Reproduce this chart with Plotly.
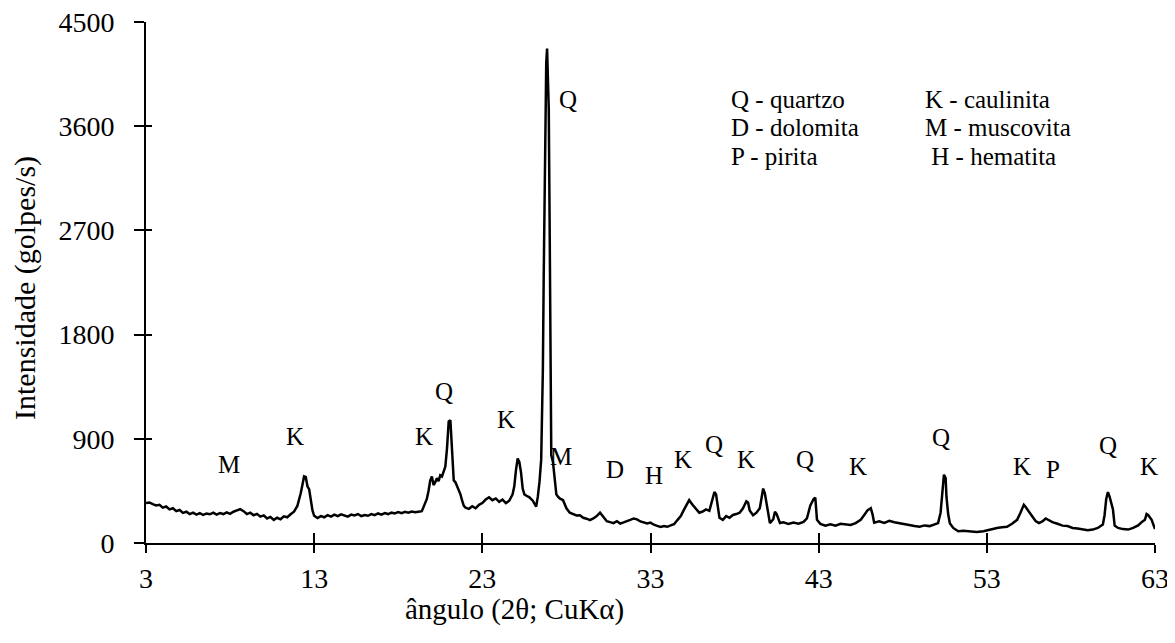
import plotly.graph_objects as go

two_theta = [
    3.0, 3.2, 3.4, 3.6, 3.8, 4.0, 4.2, 4.4, 4.6, 4.8, 5.0, 5.2, 5.4, 5.6, 5.8, 6.0, 6.2, 6.4, 6.6, 6.8,
    7.0, 7.2, 7.4, 7.6, 7.8, 8.0, 8.2, 8.4, 8.6, 8.8, 9.0, 9.2, 9.4, 9.6, 9.8, 10.0, 10.2, 10.4, 10.6, 10.8,
    11.0, 11.2, 11.4, 11.6, 11.8, 12.0, 12.1, 12.2, 12.3, 12.4, 12.5, 12.6, 12.7, 12.8, 12.9, 13.0,
    13.2, 13.4, 13.6, 13.8, 14.0, 14.2, 14.4, 14.6, 14.8, 15.0, 15.2, 15.4, 15.6, 15.8, 16.0, 16.2, 16.4,
    16.6, 16.8, 17.0, 17.2, 17.4, 17.6, 17.8, 18.0, 18.2, 18.4, 18.6, 18.8, 19.0, 19.2, 19.4,
    19.5, 19.6, 19.7, 19.8, 19.9, 20.0, 20.1, 20.2, 20.3, 20.4, 20.5, 20.6, 20.7, 20.8, 20.9, 21.0, 21.1,
    21.2, 21.3, 21.4, 21.5, 21.6, 21.7, 21.8, 21.9, 22.0, 22.2, 22.4, 22.6, 22.8, 23.0, 23.2, 23.4, 23.6,
    23.8, 24.0, 24.2, 24.4, 24.6, 24.8, 24.9, 25.0, 25.1, 25.2, 25.3, 25.4, 25.5, 25.6, 25.8, 26.0, 26.1,
    26.2, 26.3, 26.4, 26.5, 26.55, 26.6, 26.65, 26.7, 26.75, 26.8, 26.85, 26.9, 26.95, 27.0, 27.05, 27.1,
    27.2, 27.3, 27.4, 27.5, 27.6, 27.8, 28.0, 28.2, 28.4, 28.6, 28.8, 29.0, 29.2, 29.4, 29.6, 29.8, 30.0,
    30.2, 30.4, 30.6, 30.8, 31.0, 31.2, 31.4, 31.6, 31.8, 32.0, 32.2, 32.4, 32.6, 32.8, 33.0, 33.2, 33.4,
    33.6, 33.8, 34.0, 34.2, 34.4, 34.6, 34.8, 35.0, 35.2, 35.3, 35.5, 35.7, 35.9, 36.1, 36.3, 36.5, 36.6,
    36.7, 36.8, 36.9, 37.0, 37.1, 37.3, 37.5, 37.7, 37.9, 38.1, 38.3, 38.5, 38.7, 38.8, 38.9, 39.1, 39.3,
    39.5, 39.6, 39.7, 39.8, 39.9, 40.0, 40.1, 40.3, 40.4, 40.5, 40.7, 40.9, 41.2, 41.5, 41.8, 42.1, 42.3,
    42.5, 42.7, 42.8, 42.9, 43.1, 43.4, 43.7, 44.0, 44.3, 44.6, 44.9, 45.2, 45.5, 45.7, 45.9, 46.1, 46.2,
    46.3, 46.6, 46.9, 47.2, 47.5, 47.8, 48.1, 48.4, 48.7, 49.0, 49.3, 49.6, 49.9, 50.1, 50.25, 50.35, 50.45,
    50.55, 50.6, 50.7, 50.8, 51.0, 51.3, 51.6, 52.0, 52.4, 52.8, 53.0, 53.3, 53.6, 53.9, 54.2, 54.5, 54.8,
    55.0, 55.2, 55.3, 55.5, 55.7, 55.9, 56.1, 56.3, 56.5, 56.7, 56.9, 57.2, 57.5, 57.8, 58.1, 58.4, 58.7,
    59.0, 59.3, 59.6, 59.9, 60.0, 60.1, 60.2, 60.3, 60.4, 60.5, 60.6, 60.8, 61.1, 61.4, 61.7, 62.0, 62.2,
    62.4, 62.5, 62.6, 62.8, 62.9, 63.0,
]

intensity = [
    345, 350, 335, 325, 330, 305, 315, 290, 300, 275, 285, 260, 270, 250, 262, 245, 258, 242, 255, 248,
    262, 245, 258, 250, 265, 252, 270, 280, 292, 275, 250, 262, 240, 252, 228, 238, 212, 225, 200, 218,
    205, 230, 222, 248, 270, 320, 370, 430, 500, 575, 570, 490, 465, 370, 280, 235,
    215, 232, 222, 240, 228, 245, 232, 248, 235, 228, 245, 238, 250, 232, 242, 235, 250,
    240, 255, 245, 258, 250, 262, 255, 268, 258, 270, 262, 272, 265, 270, 275,
    310, 340, 380, 450, 540, 575, 500, 525, 560, 535, 585, 575, 625, 660, 820, 1050, 1060,
    780, 540, 525, 490, 455, 420, 365, 320, 305, 295, 318, 300, 330, 345, 375, 395, 370,
    385, 355, 375, 345, 365, 420, 490, 630, 730, 700, 610, 470, 420, 410, 395, 365, 340,
    315, 400, 530, 720, 1000, 1500, 2300, 3100, 3800, 4150, 4270, 4050, 3750, 2800, 1500, 760,
    700, 520, 420, 400, 385, 370, 300, 262, 250, 238, 240, 218, 210, 198, 212, 232, 262,
    220, 188, 180, 172, 188, 168, 178, 192, 200, 212, 204, 186, 175, 168, 176, 158, 148,
    138, 146, 140, 152, 162, 198, 232, 290, 345, 370, 330, 300, 262, 272, 290, 278, 330,
    400, 440, 420, 300, 218, 200, 232, 218, 242, 250, 262, 300, 360, 350, 280, 240, 262,
    300, 400, 470, 430, 330, 240, 172, 205, 270, 250, 172, 178, 165, 176, 166, 182, 212,
    322, 380, 392, 200, 165, 150, 162, 150, 166, 158, 156, 172, 200, 240, 282, 300, 250,
    176, 188, 174, 192, 180, 170, 162, 150, 146, 140, 152, 146, 160, 172, 262, 400, 590,
    560, 400, 250, 170, 130, 102, 106, 100, 96, 102, 110, 116, 130, 136, 140, 166, 200,
    262, 330, 312, 272, 240, 190, 172, 186, 212, 196, 180, 166, 150, 146, 130, 126, 116,
    110, 116, 130, 160, 240, 380, 440, 400, 330, 290, 150, 130, 120, 116, 130, 152, 180,
    200, 250, 240, 200, 160, 120,
]

x_ticks = [3, 13, 23, 33, 43, 53, 63]
y_ticks = [0, 900, 1800, 2700, 3600, 4500]

peak_labels = ["M", "K", "K", "Q", "K", "M", "Q", "D", "H", "K", "Q", "K", "Q", "K", "Q", "K", "P", "Q", "K"]
peak_x = [7.94, 11.87, 19.55, 20.74, 24.43, 27.7, 28.12, 30.86, 33.18, 34.96, 36.75, 38.65, 42.17, 45.32,
          50.26, 55.08, 56.93, 60.2, 62.64]
peak_y = [674, 916, 916, 1305, 1063, 743, 3828, 631, 579, 717, 855, 717, 717, 665, 907, 665, 631, 838, 665]

legend_left = ["Q - quartzo", "D - dolomita", "P - pirita"]
legend_right = ["K - caulinita", "M - muscovita", " H - hematita"]
legend_rows_y = [3828, 3586, 3335]

FONT = "Liberation Serif"

# the page has an 8px body margin: figure is sized/offset so the plot lands where the reference has it
W, H = 1167, 635
L, T, R, B = 138, 14, 20, 100
PW = W - L - R
PH = H - T - B

fig = go.Figure()
fig.add_trace(go.Scatter(x=two_theta, y=intensity, mode="lines",
                         line=dict(color="black", width=2.5), showlegend=False, hoverinfo="x+y"))
# invisible trace to activate the overlay axes (inside tick halves)
fig.add_trace(go.Scatter(x=[3], y=[0], xaxis="x2", yaxis="y2", mode="markers",
                         marker=dict(opacity=0), showlegend=False, hoverinfo="skip"))

for lab, px, py in zip(peak_labels, peak_x, peak_y):
    fig.add_annotation(x=px, y=py, text=lab, showarrow=False, xanchor="center", yanchor="middle",
                       font=dict(family=FONT, size=25, color="black"))

for a, b, yy in zip(legend_left, legend_right, legend_rows_y):
    fig.add_annotation(x=37.64, y=yy, text=a, showarrow=False, xanchor="left", yanchor="middle",
                       font=dict(family=FONT, size=25, color="black"))
    fig.add_annotation(x=49.19, y=yy, text=b, showarrow=False, xanchor="left", yanchor="middle",
                       font=dict(family=FONT, size=25, color="black"))

fig.add_annotation(text="ângulo (2θ; CuKα)", xref="paper", yref="paper", x=(514 - 146) / PW, y=-66 / PH,
                   showarrow=False, xanchor="center", yanchor="middle",
                   font=dict(family=FONT, size=29, color="black"))
fig.add_annotation(text="Intensidade (golpes/s)", xref="paper", yref="paper", x=-121 / PW, y=(543 - 288) / PH,
                   showarrow=False, xanchor="center", yanchor="middle", textangle=-90,
                   font=dict(family=FONT, size=30, color="black"))

axis_common = dict(showgrid=False, zeroline=False, linecolor="black", linewidth=2,
                   tickcolor="black", tickwidth=2, ticklabeloverflow="allow",
                   tickfont=dict(family=FONT, size=28, color="black"))

fig.update_layout(
    width=W, height=H,
    margin=dict(l=L, r=R, t=T, b=B, autoexpand=False),
    paper_bgcolor="white", plot_bgcolor="white",
    xaxis=dict(range=[3, 63], tickmode="array", tickvals=x_ticks, ticks="outside", ticklen=8,
               showline=True, ticklabelstandoff=1, **axis_common),
    yaxis=dict(range=[0, 4500], tickmode="array", tickvals=y_ticks, ticks="outside", ticklen=10,
               showline=True, ticklabelstandoff=14, **axis_common),
    xaxis2=dict(range=[3, 63], overlaying="x", tickmode="array", tickvals=x_ticks, ticks="inside",
                ticklen=10, showticklabels=False, showline=False, showgrid=False, zeroline=False,
                tickcolor="black", tickwidth=2),
    yaxis2=dict(range=[0, 4500], overlaying="y", tickmode="array", tickvals=y_ticks, ticks="inside",
                ticklen=6, showticklabels=False, showline=False, showgrid=False, zeroline=False,
                tickcolor="black", tickwidth=2),
)

fig.write_html("out.html")
